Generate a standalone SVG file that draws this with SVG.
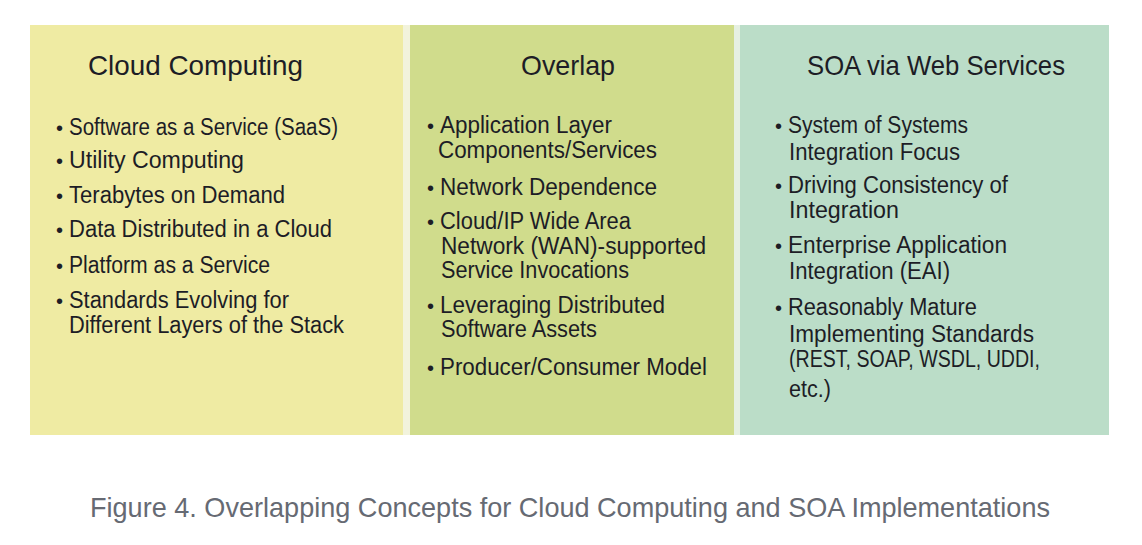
<svg xmlns="http://www.w3.org/2000/svg" width="1142" height="545" viewBox="0 0 1142 545">
<style>
.t{font-family:"Liberation Sans","Open Sans",Arial,sans-serif;font-size:28px;fill:#1d1d26}
.b{font-family:"Liberation Sans","Open Sans",Arial,sans-serif;font-size:23px;fill:#1d1d26}
.d{font-family:"Liberation Sans","Open Sans",Arial,sans-serif;font-size:20px;fill:#1d1d26}
.cap{font-family:"Liberation Sans",Arial,sans-serif;font-size:28px;fill:#666a73}
</style>
<rect width="1142" height="545" fill="#ffffff"/>
<rect x="403" y="25" width="7" height="410" fill="#f2f3dc"/>
<rect x="734" y="25" width="6" height="410" fill="#e6f0e2"/>
<g id="cloud">
<rect x="30" y="25" width="373" height="410" fill="#efeba3"/>
<text class="t" x="88" y="75" textLength="215" lengthAdjust="spacingAndGlyphs">Cloud Computing</text>
<text class="d" x="56" y="135">•</text><text class="b" x="69" y="135" textLength="269" lengthAdjust="spacingAndGlyphs">Software as a Service (SaaS)</text>
<text class="d" x="56" y="168">•</text><text class="b" x="69" y="168" textLength="175" lengthAdjust="spacingAndGlyphs">Utility Computing</text>
<text class="d" x="56" y="203">•</text><text class="b" x="69" y="203" textLength="216" lengthAdjust="spacingAndGlyphs">Terabytes on Demand</text>
<text class="d" x="56" y="237">•</text><text class="b" x="69" y="237" textLength="263" lengthAdjust="spacingAndGlyphs">Data Distributed in a Cloud</text>
<text class="d" x="56" y="273">•</text><text class="b" x="69" y="273" textLength="201" lengthAdjust="spacingAndGlyphs">Platform as a Service</text>
<text class="d" x="56" y="308">•</text><text class="b" x="69" y="308" textLength="220" lengthAdjust="spacingAndGlyphs">Standards Evolving for</text>
<text class="b" x="69" y="333" textLength="275" lengthAdjust="spacingAndGlyphs">Different Layers of the Stack</text>
</g>
<g id="overlap">
<rect x="410" y="25" width="324" height="410" fill="#d0dc8c"/>
<text class="t" x="521" y="75" textLength="94" lengthAdjust="spacingAndGlyphs">Overlap</text>
<text class="d" x="427" y="133">•</text><text class="b" x="440" y="133" textLength="172" lengthAdjust="spacingAndGlyphs">Application Layer</text>
<text class="b" x="438" y="158" textLength="219" lengthAdjust="spacingAndGlyphs">Components/Services</text>
<text class="d" x="427" y="195">•</text><text class="b" x="440" y="195" textLength="217" lengthAdjust="spacingAndGlyphs">Network Dependence</text>
<text class="d" x="427" y="229">•</text><text class="b" x="440" y="229" textLength="191" lengthAdjust="spacingAndGlyphs">Cloud/IP Wide Area</text>
<text class="b" x="441" y="254" textLength="265" lengthAdjust="spacingAndGlyphs">Network (WAN)-supported</text>
<text class="b" x="441" y="278" textLength="188" lengthAdjust="spacingAndGlyphs">Service Invocations</text>
<text class="d" x="427" y="313">•</text><text class="b" x="440" y="313" textLength="225" lengthAdjust="spacingAndGlyphs">Leveraging Distributed</text>
<text class="b" x="441" y="337" textLength="156" lengthAdjust="spacingAndGlyphs">Software Assets</text>
<text class="d" x="427" y="375">•</text><text class="b" x="440" y="375" textLength="267" lengthAdjust="spacingAndGlyphs">Producer/Consumer Model</text>
</g>
<g id="soa">
<rect x="740" y="25" width="369" height="410" fill="#bbddc8"/>
<text class="t" x="807" y="75" textLength="258" lengthAdjust="spacingAndGlyphs">SOA via Web Services</text>
<text class="d" x="775" y="133">•</text><text class="b" x="788" y="133" textLength="180" lengthAdjust="spacingAndGlyphs">System of Systems</text>
<text class="b" x="789" y="160" textLength="171" lengthAdjust="spacingAndGlyphs">Integration Focus</text>
<text class="d" x="775" y="193">•</text><text class="b" x="788" y="193" textLength="220" lengthAdjust="spacingAndGlyphs">Driving Consistency of</text>
<text class="b" x="789" y="218" textLength="110" lengthAdjust="spacingAndGlyphs">Integration</text>
<text class="d" x="775" y="253">•</text><text class="b" x="788" y="253" textLength="219" lengthAdjust="spacingAndGlyphs">Enterprise Application</text>
<text class="b" x="789" y="279" textLength="161" lengthAdjust="spacingAndGlyphs">Integration (EAI)</text>
<text class="d" x="775" y="315">•</text><text class="b" x="788" y="315" textLength="189" lengthAdjust="spacingAndGlyphs">Reasonably Mature</text>
<text class="b" x="789" y="342" textLength="245" lengthAdjust="spacingAndGlyphs">Implementing Standards</text>
<text class="b" x="789" y="367" textLength="251" lengthAdjust="spacingAndGlyphs">(REST, SOAP, WSDL, UDDI,</text>
<text class="b" x="789" y="397" textLength="42" lengthAdjust="spacingAndGlyphs">etc.)</text>
</g>
<text class="cap" x="90" y="517" textLength="960" lengthAdjust="spacingAndGlyphs">Figure 4. Overlapping Concepts for Cloud Computing and SOA Implementations</text>
</svg>
